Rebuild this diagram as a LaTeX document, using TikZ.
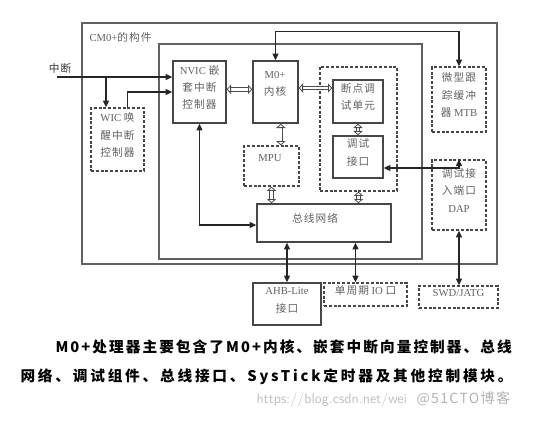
\documentclass[tikz,border=0pt]{standalone}
\usepackage{fontspec}
\setmainfont{Liberation Serif}
\newfontfamily\zhfont[LetterSpace=10]{Noto Sans CJK SC}
\newfontfamily\zhbold[LetterSpace=14]{Noto Sans CJK SC}
\newfontfamily\zhboldw[LetterSpace=19]{Noto Sans CJK SC}
\newcommand{\zh}[1]{{\zhfont #1}}
\usetikzlibrary{arrows.meta,fit,calc}

\tikzset{every picture/.style={line width=0.75pt},
  blk/.style={draw=black!72, line width=1.1pt, inner sep=0pt, text=black!62, font=\fontsize{8}{13}\selectfont, align=center},
  dblk/.style={blk, dash pattern=on 2.2pt off 1.4pt, line width=1pt},
  frm/.style={draw=black!62, line width=1pt, inner sep=0pt},
  txt/.style={text=black!62, font=\fontsize{8}{13}\selectfont, align=center, inner sep=0.75pt},
  arr/.style={draw=black!85, line width=0.9pt, -{Triangle[length=5pt,width=4.5pt]}},
  arrr/.style={draw=black!85, line width=0.9pt, {Triangle[length=5pt,width=4.5pt]}-{Triangle[length=5pt,width=4.5pt]}},
  hol/.style={draw=black!70, line width=0.6pt, double=white, double distance=2.2pt, {Triangle[fill=white,length=3.2pt,width=7pt]}-{Triangle[fill=white,length=3.2pt,width=7pt]}},
}

\begin{document}
\begin{tikzpicture}[x=0.75pt,y=0.75pt,yscale=-1,xscale=1]
\useasboundingbox (0,0) rectangle (550,428);

%Shape: Rectangle [cm0 frame]
\node[frm, fit={(82,23) (497,264)}] (cm0) {};
%Shape: Rectangle [core frame]
\node[frm, fit={(159,44) (422,259)}] (core) {};
%Shape: Rectangle [debug group]
\node[dblk, fit={(320,67) (397,191)}] (dbg) {};

%Shape: Rectangle
\node[dblk, fit={(91,108) (144,171)}] (wic) {WIC \zh{唤}\\\zh{醒中断}\\\zh{控制器}};
%Shape: Rectangle
\node[blk, fit={(173,61) (226,123)}] (nvic) {NVIC \zh{嵌}\\\zh{套中断}\\\zh{控制器}};
%Shape: Rectangle
\node[blk, fit={(253,61) (298,123)}] (m0) {};
%Shape: Rectangle
\node[dblk, fit={(244,146) (299,186)}] (mpu) {};
%Shape: Rectangle
\node[blk, fit={(333,80) (383,123)}] (bp) {\zh{断点调}\\\zh{试单元}};
%Shape: Rectangle
\node[blk, fit={(333,136) (383,178)}] (dbgif) {\zh{调试}\\\zh{接口}};
%Shape: Rectangle
\node[dblk, fit={(432,67) (486,132)}] (mtb) {\zh{微型跟}\\\zh{踪缓冲}\\\zh{器} MTB};
%Shape: Rectangle
\node[dblk, fit={(432,160) (486,230)}] (dap) {\zh{调试接}\\\zh{入端口}\\DAP};
%Shape: Rectangle
\node[blk, fit={(257,204) (391,242)}] (bus) {};
%Shape: Rectangle
\node[blk, fit={(253,283) (321,325)}] (ahb) {AHB-Lite\\\zh{接口}};
%Shape: Rectangle
\node[dblk, fit={(324,283) (407,306)}] (io) {\zh{单周期} IO \zh{口}};
%Shape: Rectangle
\node[dblk, fit={(419,286) (498,308)}] (swd) {SWD/JATG};

% Text Node
\node[txt, anchor=west] (cm0t) at (88,37) {CM0+\zh{的构件}};
% Text Node
\node[txt, text=black!80] (intt) at (60,68) {\zh{中断}};
% Text Node
\node[txt] (m0t) at (275,84) {M0+\\\zh{内核}};
% Text Node
\node[txt] (mput) at (270,158) {MPU};
% Text Node
\node[txt] (bust) at (315,218) {\zh{总线网络}};

%Straight Lines
\coordinate (intin) at (57,77);
\coordinate (br) at (106,77);
\draw[arr] (intin) -- (intin -| nvic.west);
\draw[arr] (br) -- (br |- wic.north);
\draw[arr] ([xshift=7.5pt]wic.north) |- (nvic.west);
%Straight Lines
\draw[arrr] (m0.north) -- ++(0,-29) -| (mtb.north);
\draw[arrr] ([yshift=8.25pt]dbgif.east) -| (dap.north);
\draw[arrr] ([yshift=1.5pt]bus.west) -| (nvic.south);
\draw[arrr] (bus.south -| ahb.north) -- (ahb.north);
\draw[arrr] ([xshift=-7.5pt]io.north) -- ([xshift=-7.5pt]io.north |- bus.south);
\draw[arrr] (dap.south) -- (dap.south |- swd.north);
%Double Lines
\draw[hol] ([yshift=-2pt]nvic.east) -- ([yshift=-2pt]m0.west);
\draw[hol] ([yshift=-3pt]m0.east) -- ([yshift=-3pt]m0.east -| bp.west);
\draw[hol] ([xshift=4pt]m0.south) -- ([xshift=4pt]m0.south |- mpu.north);
\draw[hol] (mpu.south) -- (mpu.south |- bus.north);
\draw[hol] (bp.south) -- (dbgif.north);
\draw[hol] (dbg.south) -- (dbg.south |- bus.north);

% Text Node
\node[anchor=west, inner sep=0pt, font=\fontsize{11}{14}\selectfont\zhbold\bfseries] (note1) at (55,347) {M0+处理器主要包含了M0+内核、嵌套中断向量控制器、总线};
% Text Node
\node[anchor=west, inner sep=0pt, font=\fontsize{11}{14}\selectfont\zhboldw\bfseries] (note2) at (20,377) {网络、调试组件、总线接口、SysTick定时器及其他控制模块。};
% Text Node
\node[anchor=west, inner sep=0pt, text=black!25, font=\fontsize{10.5}{12}\sffamily] (wm1) at (256,400) {https://blog.csdn.net/wei};
% Text Node
\node[anchor=west, inner sep=0pt, text=black!30, font=\fontsize{10.5}{12}\selectfont\zhfont] (wm2) at (416,399) {@51CTO博客};
\end{tikzpicture}
\end{document}
